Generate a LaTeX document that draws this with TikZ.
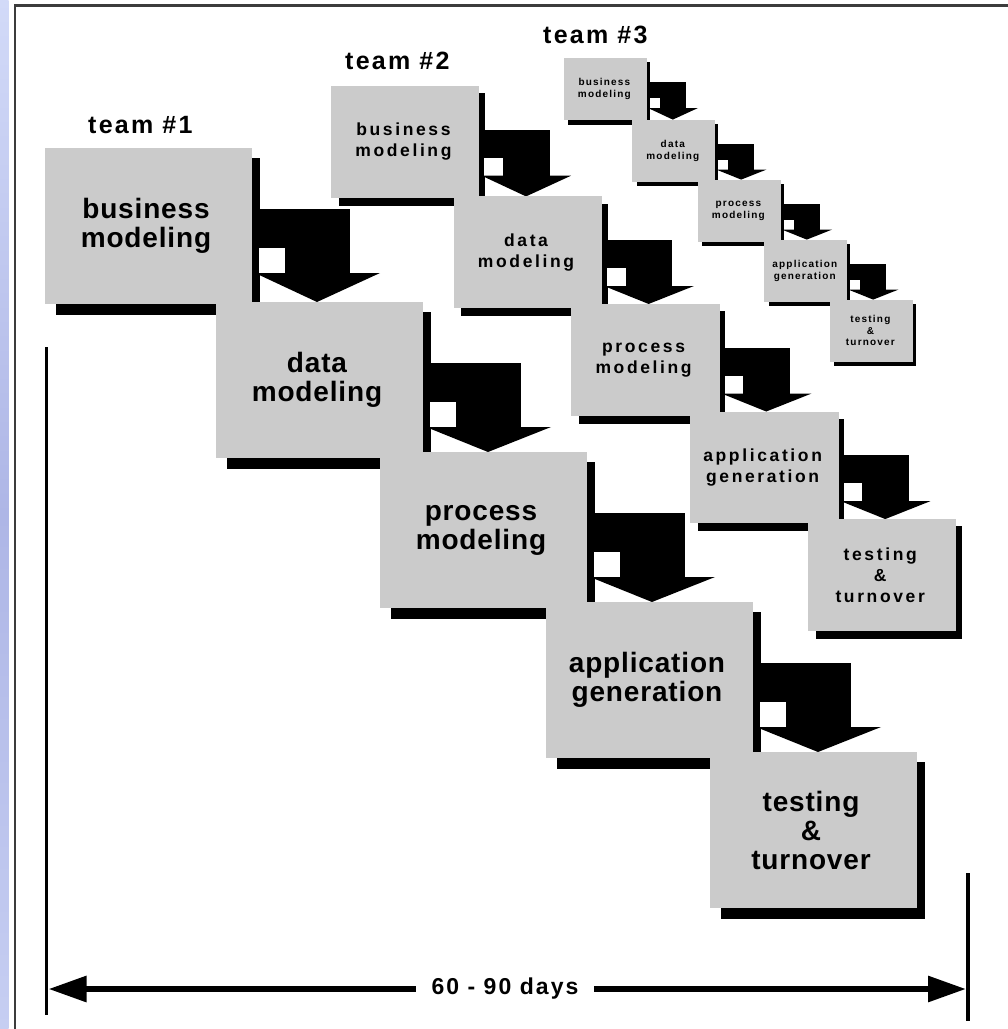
\documentclass[tikz,border=0pt]{standalone}
\usepackage{fontspec}
\setmainfont{Liberation Sans}
\newfontfamily\boxfontA[LetterSpace=3]{Liberation Sans}
\newfontfamily\boxfontB[LetterSpace=15]{Liberation Sans}
\newfontfamily\boxfontC[LetterSpace=12]{Liberation Sans}
\newfontfamily\labelfont[LetterSpace=9]{Liberation Sans}
\usetikzlibrary{arrows.meta}

\definecolor{boxgray}{HTML}{CBCBCB}
\definecolor{framegray}{HTML}{3C3C3C}
\definecolor{stripTop}{HTML}{D2DAF8}
\definecolor{stripMid}{HTML}{AEB6E6}
\definecolor{stripBot}{HTML}{C6CEF2}

\tikzset{
  stepbox/.style={fill=boxgray},
  stepshadow/.style={fill=black},
  steparrow/.style={fill=black},
  steptext/.style={align=center, inner sep=0pt, text=black},
  teamlabel/.style={anchor=base west, inner sep=0pt, font=\labelfont\bfseries\fontsize{25}{28}\selectfont},
  dimline/.style={line width=3.5pt},
}

% One team's staircase of five phases: origin (#1,#2), scale #3,
% node name prefix #4, text font #5.
\newcommand\ladder[5]{%
  \begin{scope}[shift={(#1,#2)}, scale=#3]
    \foreach \px/\py/\qy/\txt [count=\k] in {
        0/0/154/{business\\modeling},
        171/154/304/{data\\modeling},
        335/304/454/{process\\modeling},
        501/454/604/{application\\generation},
        665/604/0/{testing\\\&\\turnover}} {
      \fill[stepshadow] (\px+11,\py+10) rectangle (\px+215,\py+167);
      \fill[stepbox] (\px,\py) rectangle (\px+207,\py+156);
      \node[steptext, font=#5] (#4\k) at (\px+101,\py+78) {\txt};
      \ifnum\k<5
        \fill[steparrow] (\px+214,\py+61) rectangle (\px+305,\py+125);
        \fill[white] (\px+214,\py+100) rectangle (\px+240,\py+125);
        \fill[steparrow] (\px+210,\py+125) -- (\px+335,\py+125) -- (\px+272,\qy) -- cycle;
      \fi
    }
  \end{scope}}

\begin{document}
\begin{tikzpicture}[x=1pt, y=-1pt]
  \useasboundingbox (0,0) rectangle (1008,1029);
  \fill[white] (0,0) rectangle (1008,1029);

  % slide edge and frame
  \shade[top color=stripTop, bottom color=stripBot, middle color=stripMid] (0,0) rectangle (8.5,1029);
  \draw[framegray, line width=2.5pt] (15,1035) -- (15,5.5) -- (1012,5.5);

  % team labels
  \node[teamlabel] (team1) at (88,133) {team \#1};
  \node[teamlabel] (team2) at (345,69) {team \#2};
  \node[teamlabel] (team3) at (543,43) {team \#3};

  % the three staircases
  \ladder{45}{148}{1}{a}{\boxfontA\bfseries\fontsize{28}{29}\selectfont}
  \ladder{331}{86}{0.717}{b}{\boxfontB\bfseries\fontsize{17.5}{21}\selectfont}
  \ladder{564}{58}{0.4}{c}{\boxfontC\bfseries\fontsize{10}{11.6}\selectfont}

  % time span
  \coordinate (lt) at (46.5,347);
  \coordinate (lb) at (46.5,1015);
  \coordinate (rt) at (968,873);
  \coordinate (rb) at (968,1021);
  \draw[dimline] (lt) -- (lb);
  \draw[dimline] (rt) -- (rb);
  \coordinate (al) at (48.5,989);
  \coordinate (ar) at (966,989);
  \draw[line width=6pt, {Triangle[length=38pt,width=25pt]}-{Triangle[length=38pt,width=25pt]}] (al) -- (ar);
  \node[fill=white, inner xsep=16pt, inner ysep=2pt, font=\labelfont\bfseries\fontsize{23}{26}\selectfont] (span) at (505,989) {60 - 90 days};
\end{tikzpicture}
\end{document}
